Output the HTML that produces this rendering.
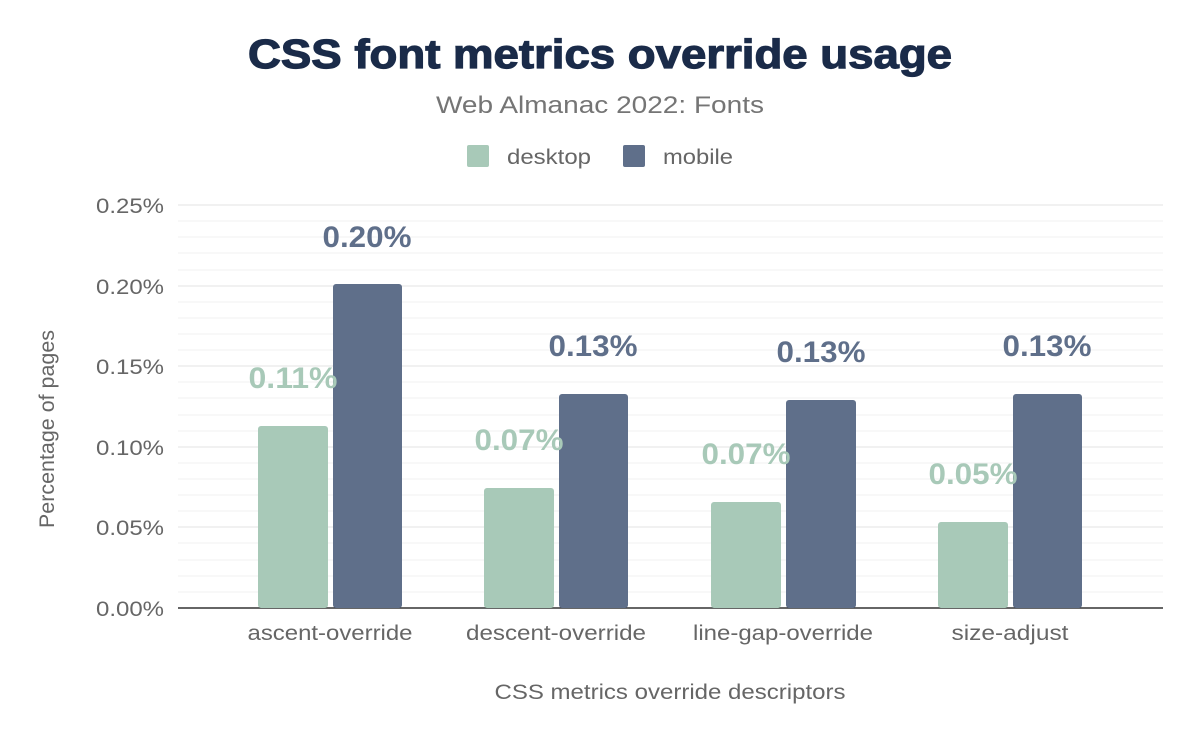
<!DOCTYPE html>
<html><head><meta charset="utf-8"><style>
body{margin:0;background:#fff;}
svg text{font-family:"Liberation Sans",Arial,sans-serif;}
</style></head><body>
<svg width="1200" height="742" viewBox="0 0 1200 742" xmlns="http://www.w3.org/2000/svg">
<rect width="1200" height="742" fill="#fff"/>
<text x="600" y="68" text-anchor="middle" font-size="41" font-weight="bold" fill="#1a2b49" stroke="#1a2b49" stroke-width="1.2" textLength="704" lengthAdjust="spacingAndGlyphs">CSS font metrics override usage</text>
<text x="600" y="113" text-anchor="middle" font-size="24" fill="#757575" textLength="328" lengthAdjust="spacingAndGlyphs">Web Almanac 2022: Fonts</text>
<rect x="467" y="145" width="22" height="22" rx="2" fill="#a8c9b8"/>
<text x="507" y="164" font-size="21" fill="#666" textLength="84" lengthAdjust="spacingAndGlyphs">desktop</text>
<rect x="623" y="145" width="22" height="22" rx="2" fill="#5f6f8a"/>
<text x="663" y="164" font-size="21" fill="#666" textLength="70" lengthAdjust="spacingAndGlyphs">mobile</text>
<g stroke="#f2f2f2" stroke-width="1">
<line x1="178" x2="1163" y1="221" y2="221"/><line x1="178" x2="1163" y1="237" y2="237"/><line x1="178" x2="1163" y1="253" y2="253"/><line x1="178" x2="1163" y1="270" y2="270"/>
<line x1="178" x2="1163" y1="302" y2="302"/><line x1="178" x2="1163" y1="318" y2="318"/><line x1="178" x2="1163" y1="334" y2="334"/><line x1="178" x2="1163" y1="350" y2="350"/>
<line x1="178" x2="1163" y1="382" y2="382"/><line x1="178" x2="1163" y1="398" y2="398"/><line x1="178" x2="1163" y1="415" y2="415"/><line x1="178" x2="1163" y1="431" y2="431"/>
<line x1="178" x2="1163" y1="463" y2="463"/><line x1="178" x2="1163" y1="479" y2="479"/><line x1="178" x2="1163" y1="495" y2="495"/><line x1="178" x2="1163" y1="511" y2="511"/>
<line x1="178" x2="1163" y1="543" y2="543"/><line x1="178" x2="1163" y1="560" y2="560"/><line x1="178" x2="1163" y1="576" y2="576"/><line x1="178" x2="1163" y1="592" y2="592"/>
</g>
<g stroke="#e3e3e3" stroke-width="1">
<line x1="178" x2="1163" y1="205" y2="205"/><line x1="178" x2="1163" y1="286" y2="286"/><line x1="178" x2="1163" y1="366" y2="366"/><line x1="178" x2="1163" y1="447" y2="447"/><line x1="178" x2="1163" y1="527" y2="527"/>
</g>
<line x1="178" x2="1163" y1="608" y2="608" stroke="#333" stroke-width="1.5"/>
<g font-size="21" fill="#666" text-anchor="end">
<text x="164" y="213" textLength="68" lengthAdjust="spacingAndGlyphs">0.25%</text><text x="164" y="294" textLength="68" lengthAdjust="spacingAndGlyphs">0.20%</text><text x="164" y="374" textLength="68" lengthAdjust="spacingAndGlyphs">0.15%</text><text x="164" y="455" textLength="68" lengthAdjust="spacingAndGlyphs">0.10%</text><text x="164" y="535" textLength="68" lengthAdjust="spacingAndGlyphs">0.05%</text><text x="164" y="616" textLength="68" lengthAdjust="spacingAndGlyphs">0.00%</text>
</g>
<text transform="translate(54,429) rotate(-90)" text-anchor="middle" font-size="21" fill="#666" textLength="198" lengthAdjust="spacingAndGlyphs">Percentage of pages</text>
<g fill="#a8c9b8">
<rect x="258" y="426" width="70" height="182" rx="3"/><rect x="484" y="488" width="70" height="120" rx="3"/><rect x="711" y="502" width="70" height="106" rx="3"/><rect x="938" y="522" width="70" height="86" rx="3"/>
</g>
<g fill="#5f6f8a">
<rect x="333" y="284" width="69" height="324" rx="3"/><rect x="559" y="394" width="69" height="214" rx="3"/><rect x="786" y="400" width="70" height="208" rx="3"/><rect x="1013" y="394" width="69" height="214" rx="3"/>
</g>
<g font-size="30" font-weight="bold" text-anchor="middle">
<text x="293" y="388" fill="#a8c9b8" textLength="89" lengthAdjust="spacingAndGlyphs">0.11%</text><text x="519" y="450" fill="#a8c9b8" textLength="89" lengthAdjust="spacingAndGlyphs">0.07%</text><text x="746" y="464" fill="#a8c9b8" textLength="89" lengthAdjust="spacingAndGlyphs">0.07%</text><text x="973" y="484" fill="#a8c9b8" textLength="89" lengthAdjust="spacingAndGlyphs">0.05%</text>
<text x="367" y="247" fill="#5f6f8a" textLength="89" lengthAdjust="spacingAndGlyphs">0.20%</text><text x="593" y="356" fill="#5f6f8a" textLength="89" lengthAdjust="spacingAndGlyphs">0.13%</text><text x="821" y="362" fill="#5f6f8a" textLength="89" lengthAdjust="spacingAndGlyphs">0.13%</text><text x="1047" y="356" fill="#5f6f8a" textLength="89" lengthAdjust="spacingAndGlyphs">0.13%</text>
</g>
<g font-size="21" fill="#666" text-anchor="middle">
<text x="330" y="640" textLength="165" lengthAdjust="spacingAndGlyphs">ascent-override</text><text x="556" y="640" textLength="180" lengthAdjust="spacingAndGlyphs">descent-override</text><text x="783" y="640" textLength="180" lengthAdjust="spacingAndGlyphs">line-gap-override</text><text x="1010" y="640" textLength="117" lengthAdjust="spacingAndGlyphs">size-adjust</text>
</g>
<text x="670" y="699" text-anchor="middle" font-size="21" fill="#666" textLength="351" lengthAdjust="spacingAndGlyphs">CSS metrics override descriptors</text>
</svg>
</body></html>
